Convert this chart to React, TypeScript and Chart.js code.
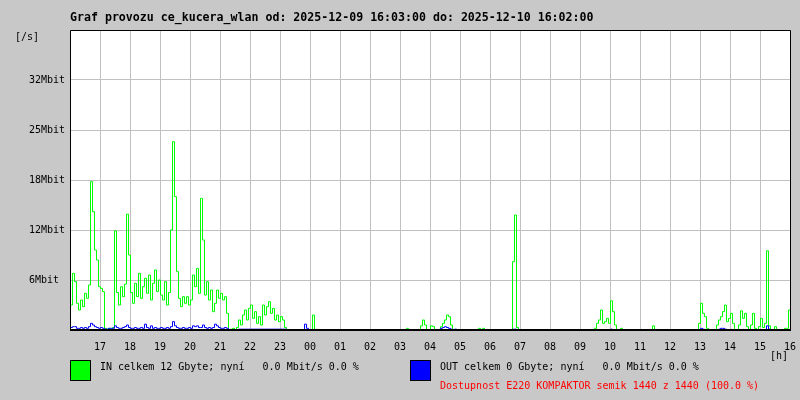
import React, { useEffect, useRef } from "react";
import { Chart, registerables } from "chart.js";

Chart.register(...registerables);

const TITLE = "Graf provozu ce_kucera_wlan od: 2025-12-09 16:03:00 do: 2025-12-10 16:02:00";
const Y_UNIT = "[/s]";
const X_UNIT = "[h]";
const START_HOUR = 16;
const FIRST_SAMPLE_MIN = 1;
const STEP_MIN = 4;
const Y_TICK_LABELS = ["", "6Mbit", "12Mbit", "18Mbit", "25Mbit", "32Mbit", ""];
const LEGEND_IN = "IN celkem 12 Gbyte; nyní   0.0 Mbit/s 0.0 %";
const LEGEND_OUT = "OUT celkem 0 Gbyte; nyní   0.0 Mbit/s 0.0 %";
const AVAILABILITY = "Dostupnost E220 KOMPAKTOR semik 1440 z 1440 (100.0 %)";

// IN traffic [Mbit/s], one sample every 4 minutes
const IN_MBIT = [
  3.0, 6.8, 5.8, 3.2, 2.4, 3.6, 2.8, 4.4, 3.8, 5.4, 17.8, 14.2, 9.6, 8.4, 5.2, 5.0, 4.6, 0.2, 0.1, 0.2,
  0.1, 0.3, 11.9, 4.5, 3.0, 5.2, 4.0, 5.5, 13.9, 9.0, 4.5, 3.2, 5.6, 4.0, 6.8, 3.8, 5.2, 6.2, 4.4, 6.6,
  3.6, 5.6, 7.2, 4.6, 6.0, 4.2, 3.6, 5.8, 3.0, 4.5, 12.0, 22.6, 16.0, 7.0, 3.8, 2.8, 4.0, 3.2, 4.0, 3.0,
  3.6, 6.6, 5.2, 7.4, 4.4, 15.8, 10.8, 4.2, 5.8, 3.6, 4.8, 2.2, 3.2, 4.8, 3.8, 4.4, 3.6, 4.0, 2.0, 0,
  0.1, 0.2, 0, 0.3, 1.2, 0.6, 1.8, 2.4, 1.2, 2.6, 3.0, 1.4, 2.2, 0.8, 1.6, 0.6, 3.0, 1.8, 2.8, 3.4,
  2.0, 2.6, 1.2, 1.8, 1.0, 1.6, 1.2, 0.3, 0, 0, 0, 0, 0, 0, 0, 0, 0, 0, 0, 0,
  0, 1.8, 0, 0, 0, 0, 0, 0, 0, 0, 0, 0, 0, 0, 0, 0, 0, 0, 0, 0,
  0, 0, 0, 0, 0, 0, 0, 0, 0, 0, 0, 0, 0, 0, 0, 0, 0, 0, 0, 0,
  0, 0, 0, 0, 0, 0, 0, 0, 0.2, 0, 0, 0, 0, 0, 0, 0.5, 1.2, 0.6, 0, 0,
  0.5, 0.4, 0, 0, 0, 0.4, 0.8, 1.2, 1.8, 1.6, 0.6, 0, 0, 0, 0, 0, 0, 0, 0, 0,
  0, 0, 0, 0, 0.2, 0, 0.2, 0, 0, 0, 0, 0, 0, 0, 0, 0, 0, 0, 0, 0,
  0, 8.2, 13.8, 0.3, 0, 0, 0, 0, 0, 0, 0, 0, 0, 0, 0, 0, 0, 0, 0, 0,
  0, 0, 0, 0, 0, 0, 0, 0, 0, 0, 0, 0, 0, 0, 0, 0, 0, 0, 0, 0,
  0, 0, 0.2, 0.8, 1.2, 2.4, 0.8, 1.0, 1.4, 0.8, 3.5, 2.2, 0.6, 0, 0, 0.2, 0, 0, 0, 0,
  0, 0, 0, 0, 0, 0, 0, 0, 0, 0, 0, 0.5, 0, 0, 0, 0, 0, 0, 0, 0,
  0, 0, 0, 0, 0, 0, 0, 0, 0, 0, 0, 0, 0, 0, 0.8, 3.2, 2.0, 1.6, 0.2, 0,
  0, 0, 0, 0.6, 1.2, 1.6, 2.2, 3.0, 1.0, 1.4, 2.0, 0.8, 0, 0, 0.6, 2.3, 1.4, 2.0, 0.4, 0,
  0.6, 2.0, 0.2, 0, 0.4, 1.4, 0.3, 0.8, 9.5, 0.5, 0, 0, 0.4, 0, 0, 0, 0, 0.2, 0.2, 2.4,
  0.6,
];

// OUT traffic [Mbit/s], one sample every 4 minutes
const OUT_MBIT = [
  0.3, 0.4, 0.4, 0.2, 0.2, 0.3, 0.2, 0.3, 0.2, 0.4, 0.8, 0.6, 0.4, 0.3, 0.2, 0.3, 0.2, 0.1, 0.1, 0.2,
  0.2, 0.2, 0.5, 0.3, 0.2, 0.2, 0.3, 0.4, 0.6, 0.3, 0.2, 0.2, 0.3, 0.2, 0.2, 0.3, 0.2, 0.7, 0.3, 0.2,
  0.5, 0.2, 0.3, 0.2, 0.2, 0.3, 0.2, 0.2, 0.3, 0.2, 0.4, 1.0, 0.5, 0.3, 0.2, 0.2, 0.3, 0.2, 0.2, 0.3,
  0.2, 0.5, 0.4, 0.5, 0.3, 0.3, 0.6, 0.3, 0.2, 0.3, 0.2, 0.3, 0.7, 0.5, 0.3, 0.2, 0.2, 0.3, 0.2, 0,
  0, 0, 0, 0, 0.1, 0.1, 0.1, 0.1, 0.1, 0.1, 0.1, 0.1, 0.1, 0.1, 0.1, 0.1, 0.1, 0.1, 0.1, 0.1,
  0.1, 0.1, 0.1, 0.1, 0.1, 0.1, 0.1, 0.1, 0, 0, 0, 0, 0, 0, 0, 0, 0, 0.7, 0.2, 0,
  0, 0, 0, 0, 0, 0, 0, 0, 0, 0, 0, 0, 0, 0, 0, 0, 0, 0, 0, 0,
  0, 0, 0, 0, 0, 0, 0, 0, 0, 0, 0, 0, 0, 0, 0, 0, 0, 0, 0, 0,
  0, 0, 0, 0, 0, 0, 0, 0, 0, 0, 0, 0, 0, 0, 0, 0, 0, 0, 0, 0,
  0, 0, 0, 0, 0, 0.2, 0.3, 0.4, 0.3, 0.2, 0.1, 0, 0.1, 0, 0, 0, 0, 0, 0, 0,
  0, 0, 0, 0, 0, 0, 0, 0, 0, 0, 0, 0, 0, 0, 0, 0, 0, 0, 0, 0,
  0, 0.1, 0.1, 0, 0, 0, 0, 0, 0, 0, 0, 0, 0, 0, 0, 0, 0, 0, 0, 0,
  0, 0, 0, 0, 0, 0, 0, 0, 0, 0, 0, 0, 0, 0, 0, 0, 0, 0, 0, 0,
  0, 0, 0, 0, 0, 0, 0, 0, 0, 0, 0.1, 0, 0, 0, 0, 0, 0, 0, 0, 0,
  0, 0, 0, 0, 0, 0, 0, 0, 0, 0, 0, 0, 0, 0, 0, 0, 0, 0, 0, 0,
  0, 0, 0, 0, 0, 0, 0, 0, 0, 0, 0, 0, 0, 0, 0, 0.2, 0.1, 0, 0, 0,
  0, 0, 0, 0, 0.1, 0.2, 0.2, 0.1, 0, 0, 0, 0, 0, 0, 0, 0, 0, 0, 0, 0,
  0, 0, 0, 0, 0, 0, 0, 0, 0.5, 0.1, 0, 0, 0, 0, 0, 0, 0, 0, 0, 0,
  0,
];

const BG = "#c8c8c8";
const GRID = "#c0c0c0";
const MONO = '"DejaVu Sans Mono", "Liberation Mono", monospace';

const decorPlugin = {
  id: "decor",
  beforeDraw(chart: any) {
    const { ctx, chartArea: a, width, height } = chart;
    ctx.save();
    ctx.fillStyle = BG;
    ctx.fillRect(0, 0, width, height);
    ctx.fillStyle = "#ffffff";
    ctx.fillRect(a.left, a.top, a.right - a.left, a.bottom - a.top);
    ctx.restore();
  },
  afterDatasetsDraw(chart: any) {
    const { ctx, chartArea: a } = chart;
    ctx.save();
    ctx.strokeStyle = "#000";
    ctx.lineWidth = 1;
    ctx.beginPath();
    ctx.moveTo(a.left + 0.5, a.bottom);
    ctx.lineTo(a.left + 0.5, a.top + 0.5);
    ctx.lineTo(a.right + 0.5, a.top + 0.5);
    ctx.lineTo(a.right + 0.5, a.bottom);
    ctx.stroke();
    ctx.lineWidth = 2;
    ctx.beginPath();
    ctx.moveTo(a.left, a.bottom);
    ctx.lineTo(a.right + 1, a.bottom);
    ctx.stroke();
    ctx.restore();
  },
  afterDraw(chart: any) {
    const { ctx } = chart;
    ctx.save();
    ctx.textBaseline = "middle";
    ctx.textAlign = "left";
    ctx.fillStyle = "#000";
    ctx.font = `bold 11.6px ${MONO}`;
    ctx.fillText(TITLE, 70, 18);
    ctx.font = `10px ${MONO}`;
    ctx.fillText(Y_UNIT, 15, 37);
    ctx.fillText(X_UNIT, 770, 356);
    ctx.lineWidth = 1;
    ctx.strokeStyle = "#000";
    ctx.fillStyle = "#00ff00";
    ctx.fillRect(70, 360, 20, 20);
    ctx.strokeRect(70.5, 360.5, 20, 20);
    ctx.fillStyle = "#0000ff";
    ctx.fillRect(410, 360, 20, 20);
    ctx.strokeRect(410.5, 360.5, 20, 20);
    ctx.fillStyle = "#000";
    ctx.fillText(LEGEND_IN, 100, 367);
    ctx.fillText(LEGEND_OUT, 440, 367);
    ctx.fillStyle = "#ff0000";
    ctx.fillText(AVAILABILITY, 440, 386);
    ctx.restore();
  },
};

export default function App() {
  const ref = useRef<HTMLCanvasElement | null>(null);

  useEffect(() => {
    if (!ref.current) return;
    const toX = (i: number) => (FIRST_SAMPLE_MIN + i * STEP_MIN) / 60;
    const inPts = IN_MBIT.map((v, i) => ({ x: toX(i), y: v }));
    const outPts = OUT_MBIT.map((v, i) => ({ x: toX(i), y: v }));
    const chart = new Chart(ref.current, {
      type: "line",
      data: {
        datasets: [
          {
            label: "OUT",
            data: outPts,
            borderColor: "#0000ff",
            borderWidth: 1,
            pointRadius: 0,
            stepped: true,
            fill: false,
          },
          {
            label: "IN",
            data: inPts,
            borderColor: "#00ff00",
            borderWidth: 1,
            pointRadius: 0,
            stepped: true,
            fill: false,
          },
        ],
      },
      options: {
        responsive: false,
        animation: false,
        devicePixelRatio: 1,
        layout: { padding: { left: 29, right: 10, top: 30, bottom: 0 } },
        plugins: {
          legend: { display: false },
          tooltip: { enabled: false },
          title: { display: false },
        },
        scales: {
          x: {
            type: "linear",
            min: 0,
            max: 24,
            border: { display: false },
            grid: { color: GRID, drawTicks: false, lineWidth: 1 },
            ticks: {
              stepSize: 1,
              autoSkip: false,
              maxRotation: 0,
              padding: 11,
              color: "#000",
              font: { family: MONO, size: 10 },
              callback: (v: any) =>
                v === 0 ? "" : String((START_HOUR + Number(v)) % 24).padStart(2, "0"),
            },
            afterFit: (s: any) => {
              s.height = 70;
              s.paddingLeft = 0;
              s.paddingRight = 0;
            },
          },
          y: {
            min: 0,
            max: 36,
            border: { display: false },
            grid: { color: GRID, drawTicks: false, lineWidth: 1 },
            ticks: {
              stepSize: 6,
              crossAlign: "far",
              padding: 0,
              color: "#000",
              font: { family: MONO, size: 10 },
              callback: (_v: any, idx: number) => Y_TICK_LABELS[idx] ?? "",
            },
            afterFit: (s: any) => {
              s.width = 41;
              s.paddingTop = 0;
              s.paddingBottom = 0;
            },
          },
        },
      },
      plugins: [decorPlugin],
    });
    return () => chart.destroy();
  }, []);

  return (
    <div style={{ position: "absolute", left: 0, top: 0, width: 800, height: 400, background: BG }}>
      <canvas ref={ref} width={800} height={400} style={{ display: "block" }} />
    </div>
  );
}
